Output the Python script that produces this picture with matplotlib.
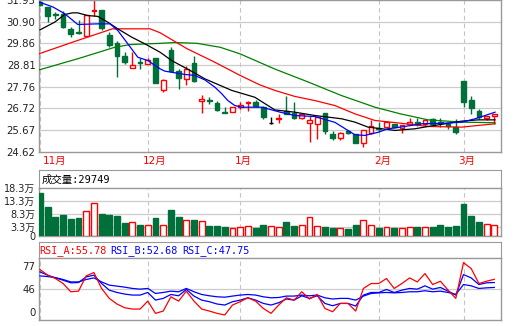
import numpy as np
import matplotlib
matplotlib.use("Agg")
from matplotlib import pyplot as plt
from matplotlib import transforms

plt.rcParams['font.family'] = ['DejaVu Sans', 'Noto Sans CJK SC']

# daily candles (price in yuan)
opens = [31.85, 31.60, 31.26, 31.29, 30.56, 30.39, 30.21, 31.42, 31.45, 30.24,
         29.87, 29.27, 28.68, 28.94, 28.84, 29.16, 27.62, 29.55, 28.52, 28.15,
         28.90, 27.10, 27.12, 26.99, 26.53, 26.57, 26.78, 26.96, 27.02, 26.78,
         26.03, 26.19, 26.62, 26.49, 26.27, 26.01, 25.98, 26.51, 25.50, 25.30,
         25.61, 25.50, 25.05, 25.53, 25.76, 25.82, 25.95, 25.77, 25.95, 26.09,
         25.95, 26.22, 26.08, 25.98, 25.82, 28.02, 27.15, 26.59, 26.25, 26.38]
highs = [31.93, 31.62, 31.36, 31.40, 30.64, 31.00, 31.24, 32.20, 31.47, 30.40,
         29.96, 29.43, 29.43, 29.16, 29.16, 29.16, 28.15, 29.67, 28.63, 28.79,
         29.23, 27.38, 27.26, 27.10, 26.78, 26.80, 27.02, 27.06, 27.14, 26.86,
         26.31, 26.43, 27.30, 27.02, 26.50, 26.38, 26.35, 26.51, 25.62, 25.60,
         25.69, 25.50, 25.70, 26.17, 26.06, 26.12, 25.98, 25.92, 26.27, 26.27,
         26.22, 26.27, 26.27, 26.00, 26.20, 28.02, 27.34, 26.70, 26.38, 26.46]
lows = [31.65, 30.88, 31.04, 30.61, 30.16, 30.32, 30.18, 31.20, 30.50, 29.67,
        28.26, 28.87, 28.66, 28.63, 28.84, 27.94, 27.50, 28.50, 27.67, 27.83,
        27.98, 26.49, 26.94, 26.58, 26.51, 26.57, 26.70, 26.62, 26.80, 26.19,
        25.95, 26.01, 26.43, 26.19, 26.20, 25.09, 25.26, 25.51, 25.22, 25.22,
        25.50, 25.04, 24.85, 25.50, 25.57, 25.78, 25.78, 25.53, 25.92, 25.86,
        25.86, 25.90, 25.82, 25.72, 25.51, 26.81, 26.43, 26.19, 26.14, 25.98]
closes = [31.73, 31.20, 31.22, 30.67, 30.29, 30.36, 31.24, 31.47, 30.59, 29.76,
          29.27, 28.95, 28.83, 28.90, 29.07, 27.94, 28.07, 28.55, 28.20, 28.63,
          28.02, 27.19, 27.08, 26.65, 26.51, 26.78, 26.90, 27.02, 26.86, 26.30,
          26.03, 26.27, 26.46, 26.25, 26.46, 26.14, 26.33, 25.61, 25.30, 25.53,
          25.53, 25.04, 25.66, 25.86, 25.72, 26.06, 25.82, 25.90, 26.09, 25.95,
          26.14, 25.98, 26.04, 25.85, 25.57, 27.02, 26.73, 26.30, 26.35, 26.46]

# volume, in 万
volumes = [16.5, 10.9, 7.4, 8.1, 6.5, 7.0, 9.6, 12.5, 8.4, 8.1,
           7.7, 5.1, 5.2, 4.2, 4.2, 7.0, 4.2, 10.1, 7.4, 6.1,
           6.1, 5.75, 4.0, 4.0, 3.6, 3.2, 3.5, 3.8, 3.2, 4.2,
           3.8, 3.5, 5.5, 4.0, 4.2, 7.2, 3.8, 3.6, 3.2, 3.1,
           2.8, 4.2, 6.1, 4.2, 3.2, 3.5, 3.2, 3.2, 3.5, 3.6,
           3.5, 3.6, 4.2, 3.6, 4.0, 12.3, 7.7, 5.5, 4.6, 4.2]

# moving averages: (candle index, price)
ma5_x = [-0.1, 1.7, 3.2, 4.9, 7.5, 9.1, 10.1, 11.4, 12.7, 14.0, 15.6, 16.2, 18.8, 20.1,
         21.4, 22.7, 23.6, 24.4, 25.3, 26.2, 28.8, 31.2, 33.1, 35.7, 38.3, 39.6, 40.9,
         42.2, 43.9, 45.2, 46.8, 49.6, 52.6, 54.8, 56.5, 59.1]
ma5_y = [31.85, 31.61, 31.29, 30.77, 30.80, 30.80, 30.48, 29.84, 29.19, 29.03, 28.63, 28.52,
         28.36, 28.31, 28.10, 27.75, 27.43, 27.10, 26.86, 26.78, 26.78, 26.54, 26.38, 26.33,
         26.05, 25.75, 25.45, 25.42, 25.57, 25.74, 25.82, 25.98, 26.01, 26.06, 26.22, 26.54]
ma10_x = [0.0, 1.9, 3.2, 4.2, 4.9, 6.2, 7.5, 8.8, 10.1, 11.9, 13.6, 15.6, 17.1, 19.9, 21.4,
          23.4, 24.9, 27.9, 30.5, 33.1, 35.7, 39.2, 40.9, 42.6, 44.4, 46.1, 48.7, 50.4,
          52.6, 54.8, 56.9, 59.1]
ma10_y = [30.51, 30.88, 31.25, 31.33, 31.33, 31.20, 31.16, 30.88, 30.56, 30.16, 29.84, 29.43,
          29.03, 28.47, 28.15, 27.83, 27.59, 27.26, 26.65, 26.54, 26.38, 26.22, 26.06, 25.82,
          25.74, 25.66, 25.74, 25.85, 25.98, 26.11, 26.17, 26.17]
ma20_x = [-0.1, 4.5, 9.4, 14.3, 15.6, 19.1, 22.7, 26.0, 28.6, 30.5, 33.1, 35.7, 38.3, 40.9,
          43.5, 46.8, 50.4, 54.8, 56.9, 59.1]
ma20_y = [29.36, 29.95, 30.56, 30.56, 30.37, 29.60, 28.95, 28.31, 27.85, 27.59, 27.30, 27.10,
          26.86, 26.46, 26.14, 26.01, 25.85, 25.82, 25.90, 25.98]
ma30_x = [-0.1, 5.2, 9.7, 11.7, 15.6, 17.5, 20.4, 23.4, 26.0, 30.5, 34.8, 39.1, 43.5, 46.8,
          50.4, 54.8, 59.1]
ma30_y = [28.58, 29.15, 29.67, 29.80, 29.86, 29.90, 29.86, 29.67, 29.35, 28.62, 28.00, 27.35,
          26.78, 26.46, 26.17, 26.06, 26.03]

rsi_a = [65.5, 59.9, 56.6, 51.6, 43.4, 44.0, 59.2, 62.5, 46.7, 36.8,
         31.2, 27.5, 26.2, 26.2, 34.1, 21.9, 24.2, 38.4, 34.1, 44.0,
         34.1, 26.2, 24.2, 21.9, 20.3, 30.2, 33.5, 37.4, 34.1, 26.8,
         21.9, 30.2, 37.4, 35.1, 43.4, 36.2, 40.7, 26.8, 23.5, 31.8,
         31.8, 24.2, 46.7, 51.6, 51.6, 56.6, 46.7, 51.6, 57.2, 53.2,
         61.5, 50.6, 53.9, 45.0, 36.8, 72.4, 66.5, 51.6, 53.9, 55.8]
rsi_b = [63.2, 59.9, 57.2, 54.9, 52.3, 52.6, 58.2, 59.9, 51.6, 45.0,
         42.7, 41.1, 40.1, 40.1, 42.7, 35.1, 36.8, 40.7, 39.4, 45.7,
         39.1, 35.1, 33.5, 31.2, 30.2, 33.5, 35.1, 37.4, 35.1, 31.8,
         30.2, 32.5, 36.2, 35.1, 39.4, 36.8, 39.4, 31.8, 29.5, 31.8,
         31.8, 29.2, 40.1, 42.7, 42.7, 45.7, 42.7, 45.0, 46.7, 46.0,
         49.3, 46.0, 47.7, 44.0, 40.1, 60.5, 57.2, 50.6, 52.3, 52.6]
rsi_c = [59.2, 58.5, 57.5, 55.6, 53.2, 53.2, 55.6, 57.2, 53.2, 50.0,
         49.0, 48.0, 46.7, 46.0, 46.7, 41.7, 42.7, 44.0, 43.4, 46.7,
         43.4, 40.7, 39.4, 38.4, 38.0, 39.1, 40.1, 40.7, 40.1, 38.4,
         37.4, 37.7, 39.1, 39.1, 40.1, 39.4, 40.1, 37.4, 36.2, 36.8,
         36.8, 35.1, 39.1, 41.7, 42.3, 42.7, 42.3, 42.7, 43.4, 43.4,
         44.4, 43.4, 44.0, 42.7, 40.7, 50.6, 49.3, 46.7, 47.3, 47.7]

month_idx = [0, 14, 26, 44, 55]
month_labels = ["11月", "12月", "1月", "2月", "3月"]

price_ticks = [24.62, 25.67, 26.72, 27.76, 28.81, 29.86, 30.90, 31.95]
vol_ticks = [0, 3.3, 8.3, 13.3, 18.3]
vol_labels = ["0", "3.3万", "8.3万", "13.3万", "18.3万"]

RED = "#ff0000"
GREEN = "#00703a"
GRID = "#cccccc"
EDGE = "#999999"
W, H = 513, 326

fig = plt.figure(figsize=(W / 100, H / 100), dpi=100)
fig.patch.set_facecolor("white")


def px_axes(x0, y0, x1, y1):
    return fig.add_axes([x0 / W, 1 - y1 / H, (x1 - x0) / W, (y1 - y0) / H])


def style(ax):
    for s in ax.spines.values():
        s.set_color(EDGE)
        s.set_linewidth(1.0)
    ax.tick_params(length=0, labelsize=7.3, pad=2.5, labelcolor="#222222")
    ax.set_xlim(-0.13, 59.87)
    ax.set_xticks([])
    for m in month_idx:
        ax.axvline(m, color="#c4c4c4", lw=0.8, ls=(0, (4, 3)), zorder=0)


n = len(opens)
idx = np.arange(n)
o = np.array(opens)
c = np.array(closes)
up = c > o
flat = c == o

# ---- price panel
ax = px_axes(39, 0, 501, 152)
style(ax)
ax.set_ylim(24.62, 31.95)
ax.set_yticks(price_ticks)
ax.set_yticklabels(["%.2f" % t for t in price_ticks])
for t in price_ticks[1:-1]:
    ax.axhline(t, color=GRID, lw=0.9, zorder=0)

cols = np.where(flat, "black", np.where(up, RED, GREEN))
ax.vlines(idx, lows, highs, colors=cols, lw=1.0, zorder=2)
body_h = np.where(np.abs(c - o) < 0.01, 0.001, c - o)
ax.bar(idx, body_h, bottom=o, width=0.62,
       color=np.where(up, "white", np.where(flat, "black", GREEN)),
       edgecolor=cols, linewidth=1.0, zorder=3)

ax.plot(ma30_x, ma30_y, color="#008000", lw=0.9, zorder=4)
ax.plot(ma20_x, ma20_y, color=RED, lw=0.9, zorder=4)
ax.plot(ma10_x, ma10_y, color="black", lw=0.9, zorder=4)
ax.plot(ma5_x, ma5_y, color="#0000ff", lw=0.9, zorder=4)

trans = transforms.blended_transform_factory(ax.transData, ax.transAxes)
for m, lab in zip(month_idx, month_labels):
    ax.text(m + (0.4 if m == 0 else -0.65), -0.058, lab, transform=trans,
            color=RED, fontsize=7.5, ha="left", va="center")

# ---- volume panel
tv = px_axes(39, 170, 501, 188)
tv.set_xticks([])
tv.set_yticks([])
for s in tv.spines.values():
    s.set_color(EDGE)
tv.text(0.005, 0.45, "成交量:29749", transform=tv.transAxes, fontsize=7.5,
        family=["DejaVu Sans Mono", "Noto Sans CJK SC"], va="center", ha="left")

av = px_axes(39, 188, 501, 236)
style(av)
av.set_ylim(0, 18.3)
av.set_yticks(vol_ticks)
av.set_yticklabels(vol_labels)
av.tick_params(labelsize=7.0)
for t in vol_ticks[1:-1]:
    av.axhline(t, color=GRID, lw=0.9, zorder=0)
vol_up = c >= o
av.bar(idx, volumes, width=0.76, color=np.where(vol_up, "white", GREEN),
       edgecolor=np.where(vol_up, RED, GREEN), linewidth=1.0, zorder=3)

# ---- RSI panel
tr = px_axes(39, 242, 501, 258)
tr.set_xticks([])
tr.set_yticks([])
for s in tr.spines.values():
    s.set_color(EDGE)
mono = "DejaVu Sans Mono"
tr.text(0.0, 0.45, "RSI_A:55.78", transform=tr.transAxes, color=RED, fontsize=7.3,
        family=mono, va="center", ha="left")
tr.text(0.155, 0.45, "RSI_B:52.68", transform=tr.transAxes, color="#0000ff", fontsize=7.3,
        family=mono, va="center", ha="left")
tr.text(0.31, 0.45, "RSI_C:47.75", transform=tr.transAxes, color="#0000ff", fontsize=7.3,
        family=mono, va="center", ha="left")

ar = px_axes(39, 258, 501, 320)
style(ar)
ar.set_ylim(15.3, 77)
ar.set_yticks([23.5, 46, 69.1])
ar.set_yticklabels(["0", "46", "77"])
ar.axhline(46, color=GRID, lw=0.9, zorder=0)
ar.plot(idx, rsi_c, color="#0000ff", lw=0.9, zorder=3)
ar.plot(idx, rsi_b, color="#0000ff", lw=0.9, zorder=3)
ar.plot(idx, rsi_a, color=RED, lw=0.9, zorder=4)

fig.savefig("out.png", dpi=100, facecolor="white")
